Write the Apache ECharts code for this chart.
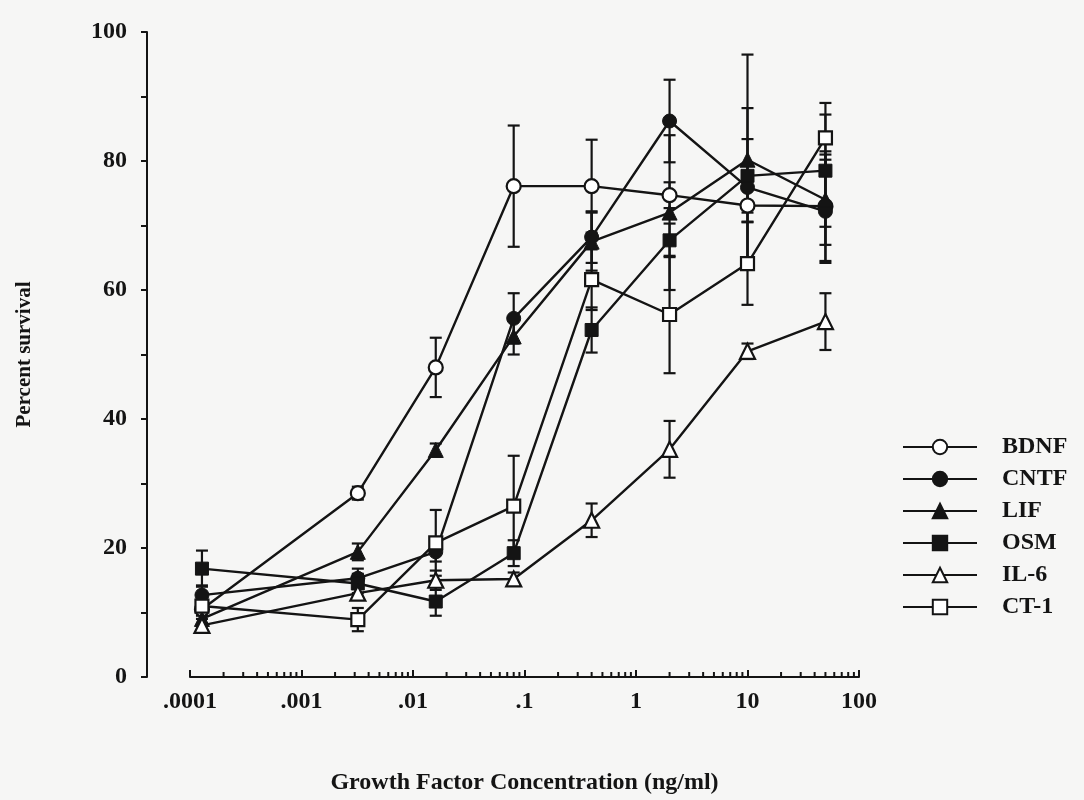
<!DOCTYPE html>
<html>
<head>
<meta charset="utf-8">
<title>Growth factor dose response</title>
<script src="https://cdn.jsdelivr.net/npm/echarts@6/dist/echarts.min.js"></script>
<style>
  html, body { margin: 0; padding: 0; background: #f6f6f5; }
  #chart { width: 1084px; height: 800px; }
</style>
</head>
<body>
<div id="chart"></div>
<script>
// Growth factor concentrations (ng/ml), five-fold dilution series
const concentrations = [0.000128, 0.0032, 0.016, 0.08, 0.4, 2, 10, 50];

// Percent survival (mean) and error (half-length of the bar)
const bdnf    = [10.5, 28.5, 48.0, 76.1, 76.1, 74.7, 73.1, 73.0];
const bdnfErr = [1.0, 1.0, 4.6, 9.4, 7.2, 2.0, 2.5, 8.5];
const cntf    = [12.7, 15.3, 19.4, 55.6, 68.2, 86.2, 75.9, 72.2];
const cntfErr = [1.5, 1.5, 1.5, 3.9, 4.0, 6.4, 12.3, 8.0];
const lif     = [9.0, 19.4, 35.2, 52.8, 67.5, 72.0, 80.2, 74.0];
const lifErr  = [1.0, 1.3, 1.0, 2.8, 4.5, 12.0, 16.3, 7.0];
const osm     = [16.8, 14.5, 11.7, 19.2, 53.8, 67.7, 77.7, 78.5];
const osmErr  = [2.8, 1.5, 2.2, 2.0, 3.5, 2.6, 5.7, 8.7];
const il6     = [8.0, 13.0, 15.0, 15.2, 24.3, 35.3, 50.5, 55.1];
const il6Err  = [1.0, 1.0, 1.5, 1.0, 2.6, 4.4, 1.2, 4.4];
const ct1     = [11.0, 8.9, 20.8, 26.5, 61.6, 56.2, 64.1, 83.6];
const ct1Err  = [1.0, 1.8, 5.1, 7.8, 4.7, 9.1, 6.4, 5.4];

// Axis tick labels
const xTickLabels = { '0.0001': '.0001', '0.001': '.001', '0.01': '.01', '0.1': '.1', '1': '1', '10': '10', '100': '100' };
const yTicks = [0, 20, 40, 60, 80, 100];

const INK = '#141414';
const FONT = '"Liberation Serif", "Times New Roman", serif';

const groups = [
  { name: 'BDNF', values: bdnf, errors: bdnfErr, symbol: 'circle',   open: true,  size: 14 },
  { name: 'CNTF', values: cntf, errors: cntfErr, symbol: 'circle',   open: false, size: 14 },
  { name: 'LIF',  values: lif,  errors: lifErr,  symbol: 'triangle', open: false, size: 15 },
  { name: 'OSM',  values: osm,  errors: osmErr,  symbol: 'rect',     open: false, size: 13 },
  { name: 'IL-6', values: il6,  errors: il6Err,  symbol: 'triangle', open: true,  size: 15 },
  { name: 'CT-1', values: ct1,  errors: ct1Err,  symbol: 'rect',     open: true,  size: 13 }
];

// Minor tick positions of the log axis: 2..9 within each decade
const minorTickValues = [];
for (let d = -4; d < 2; d++) {
  for (let k = 2; k <= 9; k++) minorTickValues.push([k * Math.pow(10, d), 0]);
}

// Error bar rows: [x, y, err]
const errorRows = [];
groups.forEach(g => {
  g.values.forEach((v, i) => errorRows.push([concentrations[i], v, g.errors[i]]));
});

const chart = echarts.init(document.getElementById('chart'), null, { renderer: 'canvas' });

const lineSeries = groups.map(g => ({
  name: g.name,
  type: 'line',
  data: g.values.map((v, i) => [concentrations[i], v]),
  symbol: g.symbol,
  symbolSize: g.size,
  showAllSymbol: true,
  z: 3,
  lineStyle: { color: INK, width: 2.4 },
  itemStyle: g.open
    ? { color: '#ffffff', borderColor: INK, borderWidth: 2.2 }
    : { color: INK, borderColor: INK, borderWidth: 1 },
  emphasis: { disabled: true },
  animation: false
}));

const option = {
  backgroundColor: '#f6f6f5',
  animation: false,
  grid: { left: 190, right: 225, top: 32, bottom: 119, containLabel: false },
  xAxis: {
    type: 'log',
    logBase: 10,
    min: 0.0001,
    max: 100,
    name: 'Growth Factor Concentration (ng/ml)',
    nameLocation: 'middle',
    nameGap: 94,
    nameTextStyle: { fontFamily: FONT, fontWeight: 'bold', fontSize: 24, color: INK },
    axisLine: { show: true, onZero: false, lineStyle: { color: INK, width: 2 } },
    axisTick: { show: true, inside: true, length: 7, lineStyle: { color: INK, width: 2 } },
    axisLabel: {
      margin: 13,
      fontFamily: FONT, fontWeight: 'bold', fontSize: 24, color: INK,
      formatter: v => xTickLabels[String(v)] || ''
    },
    splitLine: { show: false }
  },
  yAxis: {
    type: 'value',
    min: 0,
    max: 100,
    interval: 20,
    offset: 43,
    name: 'Percent survival',
    nameLocation: 'middle',
    nameGap: 112,
    nameRotate: 90,
    nameTextStyle: { fontFamily: FONT, fontWeight: 'bold', fontSize: 21, color: INK },
    axisLine: { show: true, lineStyle: { color: INK, width: 2 } },
    axisTick: { show: true, inside: false, length: 6, lineStyle: { color: INK, width: 2 } },
    minorTick: { show: true, splitNumber: 2, length: 6, lineStyle: { color: INK, width: 2 } },
    axisLabel: {
      margin: 20,
      fontFamily: FONT, fontWeight: 'bold', fontSize: 24, color: INK,
      formatter: v => (yTicks.indexOf(v) >= 0 ? String(v) : '')
    },
    splitLine: { show: false }
  },
  legend: {
    orient: 'vertical',
    left: 897,
    top: 430,
    itemWidth: 74,
    itemHeight: 18,
    itemGap: 8,
    selectedMode: false,
    textStyle: {
      fontFamily: FONT, fontWeight: 'bold', fontSize: 24, lineHeight: 24,
      color: INK, padding: [0, 0, 0, 20]
    },
    data: groups.map(g => g.name)
  },
  series: [
    {
      type: 'custom',
      name: 'errorbars',
      silent: true,
      z: 2,
      data: errorRows,
      encode: { x: 0, y: 1 },
      renderItem: (params, api) => {
        const x = api.value(0), y = api.value(1), e = api.value(2);
        const top = api.coord([x, y + e]);
        const bot = api.coord([x, y - e]);
        const half = 6;
        const style = { stroke: INK, lineWidth: 2.2 };
        return {
          type: 'group',
          children: [
            { type: 'line', shape: { x1: top[0], y1: top[1], x2: bot[0], y2: bot[1] }, style },
            { type: 'line', shape: { x1: top[0] - half, y1: top[1], x2: top[0] + half, y2: top[1] }, style },
            { type: 'line', shape: { x1: bot[0] - half, y1: bot[1], x2: bot[0] + half, y2: bot[1] }, style }
          ]
        };
      }
    },
    {
      type: 'custom',
      name: 'minorticks',
      silent: true,
      z: 1,
      data: minorTickValues,
      encode: { x: 0, y: 1 },
      renderItem: (params, api) => {
        const p = api.coord([api.value(0), 0]);
        return {
          type: 'line',
          shape: { x1: p[0], y1: p[1], x2: p[0], y2: p[1] - 5 },
          style: { stroke: INK, lineWidth: 2 }
        };
      }
    },
    ...lineSeries
  ]
};

chart.setOption(option);
</script>
</body>
</html>
